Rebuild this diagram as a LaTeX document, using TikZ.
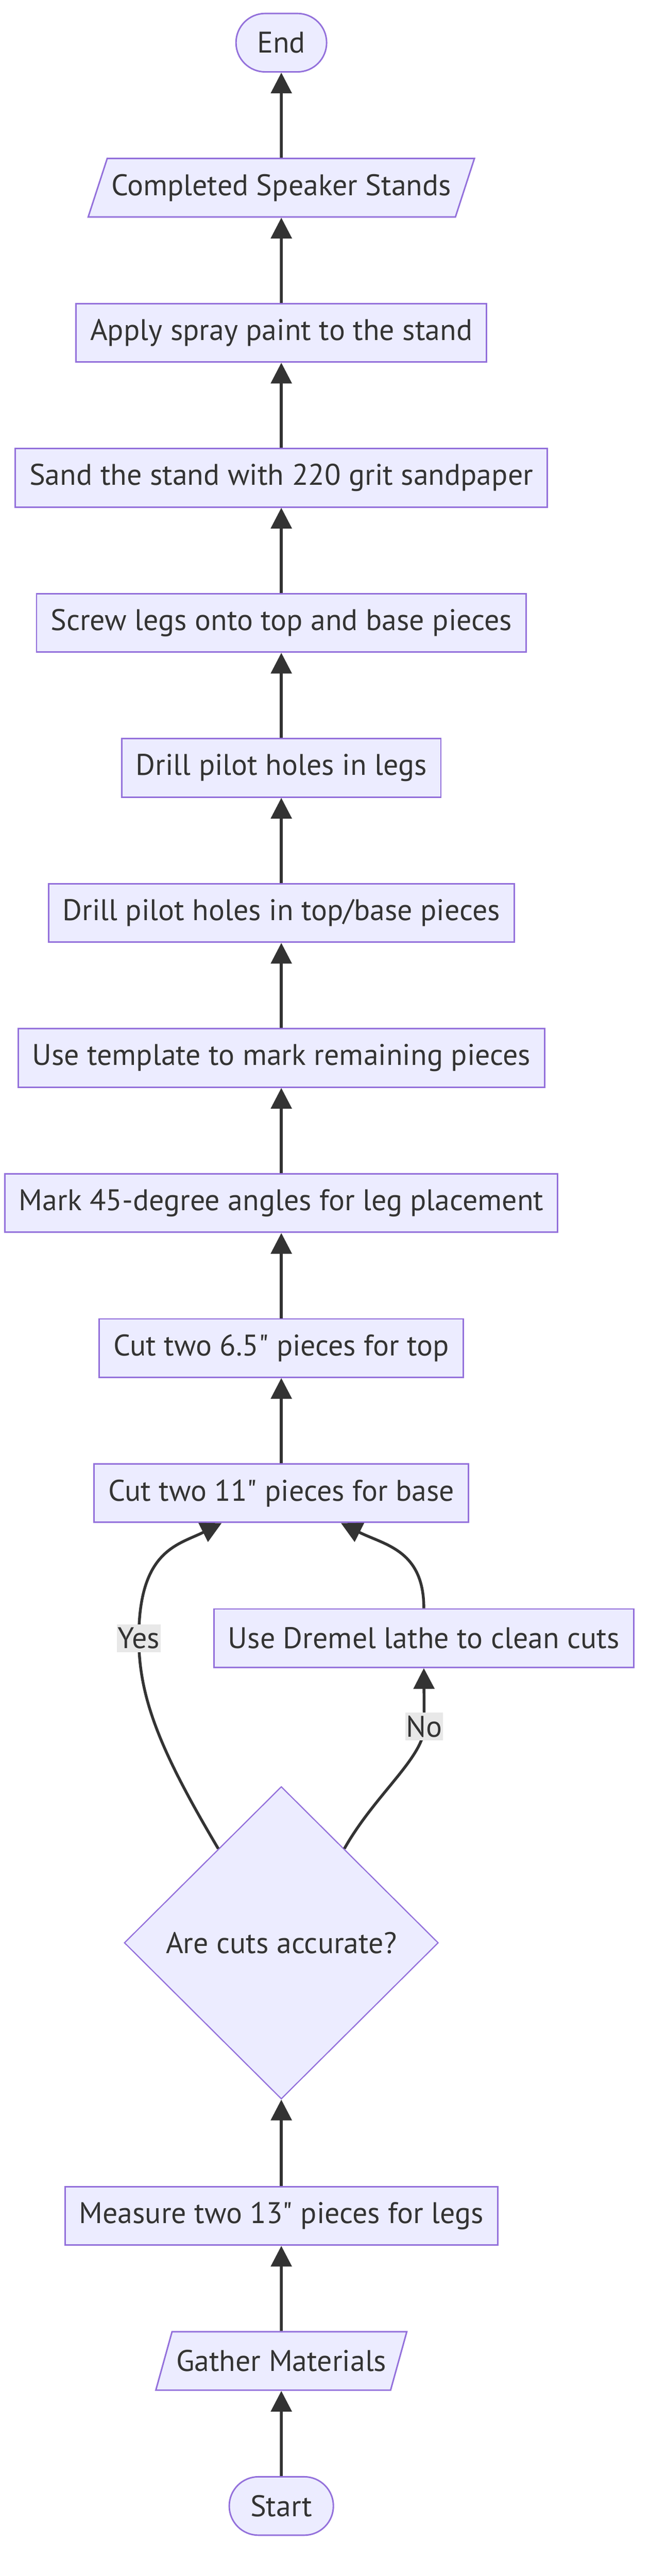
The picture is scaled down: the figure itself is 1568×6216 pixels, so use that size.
\documentclass[tikz,border=0pt]{standalone}
\usepackage{fontspec}
\setmainfont{PT Sans}
\usetikzlibrary{arrows.meta,shapes.geometric,calc}
\definecolor{boxfill}{HTML}{ECECFF}
\definecolor{boxline}{HTML}{9370DB}
\definecolor{ink}{HTML}{333333}
\definecolor{lblfill}{HTML}{E8E8E8}
\begin{document}
\begin{tikzpicture}[x=0.25pt,y=0.25pt,yscale=-1,
	every node/.style={font=\fontsize{18pt}{22pt}\selectfont, text=ink},
	proc/.style={draw=boxline, fill=boxfill, line width=0.9pt, minimum height=35.25pt, inner xsep=8.5pt},
	io/.style={trapezium, trapezium left angle=63.6, trapezium right angle=116.4, trapezium stretches body,
		draw=boxline, fill=boxfill, line width=0.9pt, minimum height=35.25pt, inner xsep=2.5pt},
	term/.style={draw=boxline, fill=boxfill, line width=0.9pt, rounded corners=17.6pt, minimum height=35.25pt, inner xsep=12.75pt},
	decide/.style={diamond, draw=boxline, fill=boxfill, line width=0.7pt, minimum width=189.5pt, minimum height=188.5pt, inner sep=0pt},
	elabel/.style={fill=lblfill, inner xsep=0.5pt, inner ysep=2pt},
	flow/.style={draw=ink, line width=1.7pt, -{Triangle[length=12.5pt,width=12.5pt]}}]
	\useasboundingbox (0,0) rectangle (1568,6216);
	% steps, top to bottom
	\node [term] (stop) at (679,103) {End};
	\node [io] (stands) at (679,453) {Completed Speaker Stands};
	\node [proc] (paint) at (679,803) {Apply spray paint to the stand};
	\node [proc] (sand) at (679,1153) {Sand the stand with 220 grit sandpaper};
	\node [proc] (screw) at (679,1503) {Screw legs onto top and base pieces};
	\node [proc] (drillleg) at (679,1853) {Drill pilot holes in legs};
	\node [proc] (drilltb) at (679,2203) {Drill pilot holes in top/base pieces};
	\node [proc] (template) at (679,2553) {Use template to mark remaining pieces};
	\node [proc] (markang) at (679,2903) {Mark 45-degree angles for leg placement};
	\node [proc] (cuttop) at (679,3253) {Cut two 6.5\textquotedbl{} pieces for top};
	\node [proc] (cutbase) at (679,3603) {Cut two 11\textquotedbl{} pieces for base};
	\node [proc] (dremel) at (1023,3953) {Use Dremel lathe to clean cuts};
	\node [decide] (check) at (679,4688) {Are cuts accurate?};
	\node [proc] (measure) at (679,5347) {Measure two 13\textquotedbl{} pieces for legs};
	\node [io] (gather) at (679,5697) {Gather Materials};
	\node [term] (start) at (679,6047) {Start};
	% straight arrows
	\draw [flow] (start) -- (gather);
	\draw [flow] (gather) -- (measure);
	\draw [flow] (measure) -- (check);
	\draw [flow] (cutbase) -- (cuttop);
	\draw [flow] (cuttop) -- (markang);
	\draw [flow] (markang) -- (template);
	\draw [flow] (template) -- (drilltb);
	\draw [flow] (drilltb) -- (drillleg);
	\draw [flow] (drillleg) -- (screw);
	\draw [flow] (screw) -- (sand);
	\draw [flow] (sand) -- (paint);
	\draw [flow] (paint) -- (stands);
	\draw [flow] (stands) -- (stop);
	% decision branches
	\draw [flow] ($(check.north)!0.4!(check.west)$) .. controls (390,4230) and (335,4100) .. (335,3953) node [elabel] {Yes}
		.. controls (335,3740) and (430,3728) .. ($(cutbase.south)+(-144,0)$);
	\draw [flow] ($(check.north)!0.4!(check.east)$) .. controls (905,4330) and (1024,4240) .. (1024,4166) node [elabel] {No}
		-- (dremel.south);
	\draw [flow] (dremel.north) .. controls (1023,3740) and (928,3728) .. ($(cutbase.south)+(144,0)$);
\end{tikzpicture}
\end{document}
